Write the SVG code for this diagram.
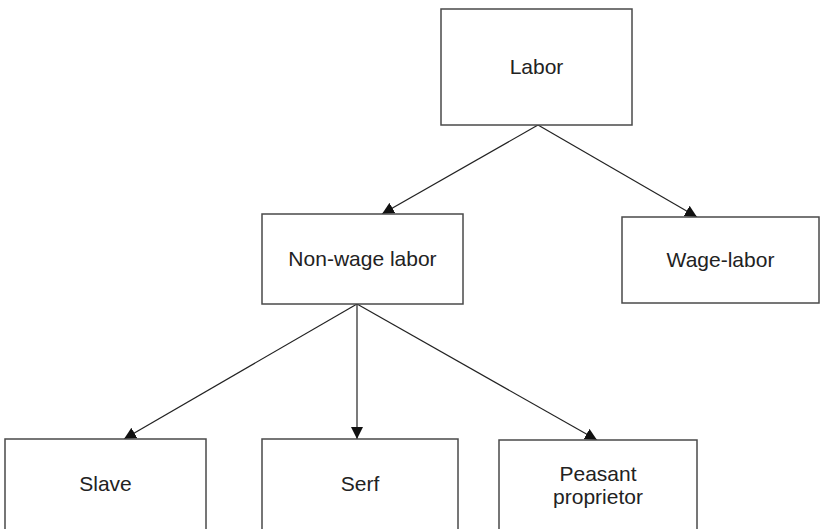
<svg xmlns="http://www.w3.org/2000/svg" width="821" height="529" viewBox="0 0 821 529">
  <style>
    .box { fill: #ffffff; stroke: #4a4a4a; stroke-width: 1.5; }
    .label { font-family: "Liberation Sans", Arial, sans-serif; font-size: 21px; fill: #222222; text-anchor: middle; }
    .edge { stroke: #222222; stroke-width: 1.2; fill: none; marker-end: url(#arrow); }
  </style>
  <defs>
    <marker id="arrow" markerUnits="userSpaceOnUse" markerWidth="12" markerHeight="12" refX="12" refY="6" orient="auto">
      <path d="M0,0 L12,6 L0,12 z" fill="#111111"/>
    </marker>
  </defs>
  <rect width="821" height="529" fill="#ffffff"/>

  <!-- connectors -->
  <g id="connectors">
    <line class="edge" x1="538" y1="125" x2="382" y2="214"/>
    <line class="edge" x1="538" y1="125" x2="697" y2="217"/>
    <line class="edge" x1="357" y1="304" x2="124" y2="439"/>
    <line class="edge" x1="357" y1="304" x2="357" y2="439"/>
    <line class="edge" x1="357" y1="304" x2="597" y2="440"/>
  </g>

  <g id="labor">
    <rect class="box" x="441" y="9" width="191" height="116"/>
    <text class="label" x="536.5" y="74">Labor</text>
  </g>

  <g id="non-wage-labor">
    <rect class="box" x="262" y="214" width="201" height="90"/>
    <text class="label" x="362.5" y="266">Non-wage labor</text>
  </g>

  <g id="wage-labor">
    <rect class="box" x="622" y="217" width="197" height="86"/>
    <text class="label" x="720.5" y="267">Wage-labor</text>
  </g>

  <g id="slave">
    <rect class="box" x="5" y="439" width="201" height="100"/>
    <text class="label" x="105.5" y="491">Slave</text>
  </g>

  <g id="serf">
    <rect class="box" x="262" y="439" width="196" height="100"/>
    <text class="label" x="360" y="491">Serf</text>
  </g>

  <g id="peasant-proprietor">
    <rect class="box" x="499" y="440" width="198" height="100"/>
    <text class="label" x="598" y="481">Peasant</text>
    <text class="label" x="598" y="504">proprietor</text>
  </g>
</svg>
